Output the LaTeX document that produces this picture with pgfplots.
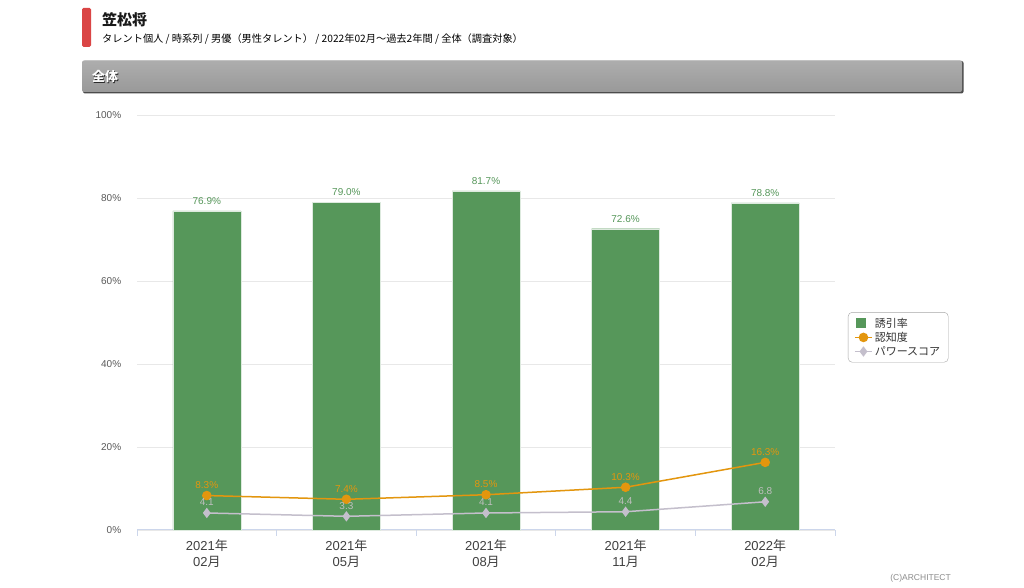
\documentclass[border=0pt]{standalone}
\usepackage{pgfplots}
\pgfplotsset{compat=1.18}
\usepackage{fontspec}
\setmainfont{Liberation Sans}
\newfontfamily\cjk{Noto Sans CJK JP}
\usetikzlibrary{shadings}
\definecolor{barg}{HTML}{56975A}
\definecolor{org}{HTML}{E3960E}
\definecolor{pgr}{HTML}{C4BFCC}
\definecolor{axc}{HTML}{CCD6EB}
\definecolor{gridc}{HTML}{E8E8E8}
\definecolor{redbar}{HTML}{DA4545}
\begin{document}
\begin{tikzpicture}[x=1pt,y=1pt]
\fill[white] (0,0) rectangle (1024,588);
% header
\fill[redbar,rounded corners=1.5pt] (82,541) rectangle (91,580);
\node[anchor=west,inner sep=0,font=\cjk\fontsize{15}{17}\selectfont\bfseries,text=black!90] at (102,568) {笠松将};
\node[anchor=west,inner sep=0,font=\cjk\fontsize{10.2}{12}\selectfont,text=black] at (102,549) {タレント個人 / 時系列 / 男優（男性タレント） / 2022年02月〜過去2年間 / 全体（調査対象）};
\fill[black!70,rounded corners=2pt] (83,494.5) rectangle (963.5,527);
\shade[rounded corners=2pt,top color=black!32,middle color=black!70,bottom color=black!40] (82,496) rectangle (962,527.5);
\node[anchor=west,inner sep=0,font=\cjk\fontsize{13}{15}\selectfont\bfseries,text=black!85] at (92.6,510.4) {全体};
\node[anchor=west,inner sep=0,font=\cjk\fontsize{13}{15}\selectfont\bfseries,text=white] at (92,511) {全体};
\node[anchor=east,inner sep=0,font=\fontsize{8.5}{10}\selectfont,text=black!45] at (951,10) {(C)ARCHITECT};
\begin{axis}[
  at={(137pt,58pt)}, anchor=south west,
  scale only axis, width=698pt, height=415pt,
  xmin=-0.5, xmax=4.5, ymin=0, ymax=100,
  axis x line*=bottom, axis y line*=left,
  x axis line style={draw=axc,line width=1pt},
  y axis line style={draw=none},
  ytick={0,20,40,60,80,100},
  ytick style={draw=none},
  ymajorgrids, major grid style={draw=gridc,line width=0.8pt},
  xtick={0,1,2,3,4},
  xticklabels={{2021{\cjk 年}\\02{\cjk 月}},{2021{\cjk 年}\\05{\cjk 月}},{2021{\cjk 年}\\08{\cjk 月}},{2021{\cjk 年}\\11{\cjk 月}},{2022{\cjk 年}\\02{\cjk 月}}},
  major x tick style={draw=none},
  minor xtick={-0.5,0.5,1.5,2.5,3.5,4.5},
  minor x tick style={draw=axc,line width=1pt},
  tick align=outside, minor tick length=6pt,
  /pgf/number format/assume math mode=true,
  xticklabel style={align=center,font=\fontsize{13}{15.5}\selectfont,text=black!75,yshift=-2pt},
  yticklabel style={font=\fontsize{10}{11}\selectfont,text=black!65,xshift=-8pt},
  yticklabel={\pgfmathprintnumber{\tick}\%},
  clip=false,
  legend style={at={(1.0186,0.525)},anchor=north west,draw=black!35,rounded corners=4pt,
    font=\cjk\fontsize{11}{13}\selectfont,text=black!80,row sep=-0.5pt,inner xsep=6pt,inner ysep=3.5pt},
  legend cell align=left,
]
\addplot[ybar,bar width=68pt,fill=barg,draw=white!80!barg,line width=0.4pt,
  nodes near coords={\pgfmathprintnumber[fixed,fixed zerofill,precision=1]{\pgfplotspointmeta}\%},
  nodes near coords style={font=\fontsize{10}{11}\selectfont,text=barg,yshift=3pt},
  legend image code/.code={\fill[barg,sharp corners] (1.5pt,-4.5pt) rectangle (10.5pt,4.5pt);}]
  coordinates {(0,76.9) (1,79.0) (2,81.7) (3,72.6) (4,78.8)};
\addlegendentry{誘引率}
\addplot[org,line width=1.5pt,mark=*,mark size=4pt,mark options={fill=org,draw=org},
  nodes near coords={\pgfmathprintnumber[fixed,fixed zerofill,precision=1]{\pgfplotspointmeta}\%},
  nodes near coords style={font=\fontsize{10}{11}\selectfont,text=org,yshift=3pt}]
  coordinates {(0,8.3) (1,7.4) (2,8.5) (3,10.3) (4,16.3)};
\addlegendentry{認知度}
\addplot[pgr,line width=1.5pt,mark=diamond*,mark size=4pt,mark options={fill=pgr,draw=pgr},
  nodes near coords={\pgfmathprintnumber[fixed,fixed zerofill,precision=1]{\pgfplotspointmeta}},
  nodes near coords style={font=\fontsize{10}{11}\selectfont,text=black!25,yshift=3pt}]
  coordinates {(0,4.1) (1,3.3) (2,4.1) (3,4.4) (4,6.8)};
\addlegendentry{パワースコア}
\end{axis}
\end{tikzpicture}
\end{document}
